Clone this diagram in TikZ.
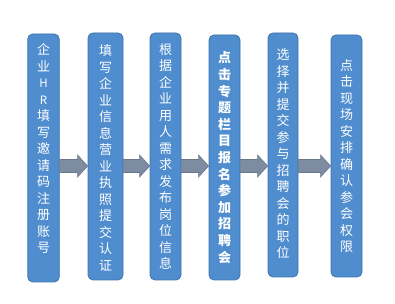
\documentclass[tikz,border=0pt]{standalone}
\usepackage{fontspec}
\newfontfamily\cjk{Noto Sans CJK SC}
\usetikzlibrary{calc}
\definecolor{boxblue}{HTML}{4F8DCF}
\definecolor{boxedge}{HTML}{3E73AD}
\definecolor{arrfill}{HTML}{7E8CA1}
\definecolor{arredge}{HTML}{6A778B}
\tikzset{
  box/.style={draw=boxedge, line width=0.8pt, fill=boxblue, rounded corners=5pt, inner sep=0pt},
  txt/.style={font=\cjk\fontsize{13}{16.5}\selectfont, text=white, align=center, inner sep=0pt},
  txtb/.style={font=\cjk\bfseries\fontsize{13}{16.6}\selectfont, text=white, align=center, inner sep=0pt},
  arr/.style={draw=arredge, line width=0.6pt, fill=arrfill},
}
\newcommand\flowarrow[3]{%
  \path[arr] let \p1=(#1.east), \p2=(#2.west) in
    (\x1,#3+6.5) -- (\x2-10,#3+6.5) -- (\x2-10,#3+11) -- (\x2,#3) --
    (\x2-10,#3-11) -- (\x2-10,#3-6.5) -- (\x1,#3-6.5) -- cycle;}
\newcommand\smallch[1]{{\fontsize{11.5}{16.5}\selectfont #1}}
\begin{document}
\begin{tikzpicture}[x=1pt,y=1pt]
\useasboundingbox[fill=white] (0,0) rectangle (395,304);
\node[box, minimum width=31.5pt, minimum height=248pt] (b1) at (43.5,146) {};
\node[box, minimum width=35pt, minimum height=247pt] (b2) at (105.5,147.5) {};
\node[box, minimum width=31pt, minimum height=247pt] (b3) at (165.5,147.5) {};
\node[box, minimum width=31pt, minimum height=245pt] (b4) at (224.5,146.5) {};
\node[box, minimum width=30pt, minimum height=244pt] (b5) at (283,149) {};
\node[box, minimum width=31pt, minimum height=242pt] (b6) at (346.5,148) {};
\node[txt] (t1) at (43.5,155.5) {企\\业\\\smallch{H}\\\smallch{R}\\填\\写\\邀\\请\\码\\注\\册\\账\\号};
\node[txt] (t2) at (105.5,146) {填\\写\\企\\业\\信\\息\\营\\业\\执\\照\\提\\交\\认\\证};
\node[txt] (t3) at (165.5,147.5) {根\\据\\企\\业\\用\\人\\需\\求\\发\\布\\岗\\位\\信\\息};
\node[txtb] (t4) at (224.5,146.5) {点\\击\\专\\题\\栏\\目\\报\\名\\参\\加\\招\\聘\\会};
\node[txt] (t5) at (283,150) {选\\择\\并\\提\\交\\参\\与\\招\\聘\\会\\的\\职\\位};
\node[txt] (t6) at (346.5,148) {点\\击\\现\\场\\安\\排\\确\\认\\参\\会\\权\\限};
\flowarrow{b1}{b2}{138}
\flowarrow{b2}{b3}{138}
\flowarrow{b3}{b4}{138}
\flowarrow{b4}{b5}{138}
\flowarrow{b5}{b6}{138}
\end{tikzpicture}
\end{document}
